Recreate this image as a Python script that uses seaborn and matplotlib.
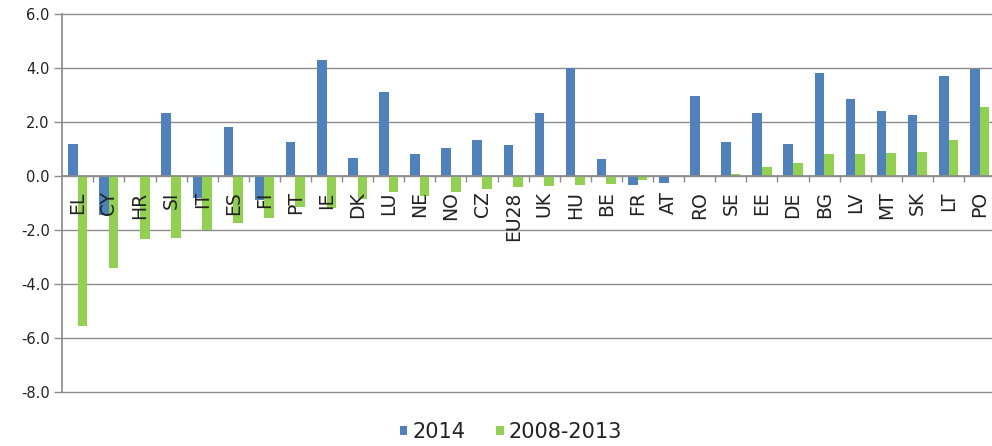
import numpy as np
import pandas as pd
import matplotlib
matplotlib.use("Agg")
import matplotlib.pyplot as plt
import seaborn as sns
from matplotlib.ticker import FixedLocator, FormatStrFormatter

countries = ["EL", "CY", "HR", "SI", "IT", "ES", "FI", "PT", "IE", "DK",
             "LU", "NE", "NO", "CZ", "EU28", "UK", "HU", "BE", "FR", "AT",
             "RO", "SE", "EE", "DE", "BG", "LV", "MT", "SK", "LT", "PO"]
v2014 = [1.2, -1.45, 0.0, 2.33, -0.8, 1.8, -0.9, 1.27, 4.3, 0.67,
         3.1, 0.8, 1.03, 1.33, 1.15, 2.33, 4.0, 0.62, -0.32, -0.25,
         2.98, 1.27, 2.33, 1.2, 3.83, 2.87, 2.39, 2.27, 3.7, 3.97]
v0813 = [-5.55, -3.4, -2.35, -2.3, -2.0, -1.75, -1.57, -1.15, -1.2, -0.85,
         -0.6, -0.75, -0.58, -0.49, -0.42, -0.37, -0.35, -0.3, -0.15, 0.0,
         0.0, 0.07, 0.32, 0.49, 0.8, 0.8, 0.85, 0.9, 1.32, 2.57]
series_names = ["2014", "2008-2013"]
colors = ["#4F81BD", "#92D050"]
yticks = [-8, -6, -4, -2, 0, 2, 4, 6]

df = pd.DataFrame({
    "country": countries + countries,
    "series": [series_names[0]] * len(countries) + [series_names[1]] * len(countries),
    "value": v2014 + v0813,
})

sns.set_theme(style="white")
plt.rcParams["font.family"] = ["DejaVu Sans"]

fig = plt.figure(figsize=(9.92, 4.46), dpi=100)
ax = fig.add_axes([62.2 / 992, 1 - 392 / 446, (995.2 - 62.2) / 992, (392 - 14) / 446])

sns.barplot(data=df, x="country", y="value", hue="series", order=countries,
            hue_order=series_names, palette=colors, width=0.62, saturation=1,
            errorbar=None, linewidth=0, edgecolor="none", ax=ax)

ax.set_ylim(-8, 6)
ax.set_xlim(-0.5, len(countries) - 0.5)
ax.set_yticks(yticks)
ax.yaxis.set_major_formatter(FormatStrFormatter("%.1f"))
ax.set_xlabel("")
ax.set_ylabel("")
ax.grid(axis="y", color="#8c8c8c", lw=1)
for gl in ax.yaxis.get_gridlines():
    gl.set_clip_on(False)
ax.set_axisbelow(True)
ax.xaxis.set_zorder(2.5)
for s in ["top", "right"]:
    ax.spines[s].set_visible(False)
ax.spines["bottom"].set_position(("data", 0))
ax.spines["bottom"].set_color("#8c8c8c")
ax.spines["left"].set_color("#8c8c8c")
ax.tick_params(axis="x", which="major", length=0, pad=11, labelsize=13.5,
               labelrotation=90, labelcolor="#222222")
ax.xaxis.set_minor_locator(FixedLocator(np.arange(0.5, len(countries) - 1, 1)))
ax.tick_params(axis="x", which="minor", length=4.5, width=1, color="#8c8c8c",
               direction="out", bottom=True)
ax.tick_params(axis="y", length=6, width=1, color="#8c8c8c", labelsize=10.5,
               pad=3, labelcolor="#222222", left=True)

handles, labels = ax.get_legend_handles_labels()
if ax.legend_ is not None:
    ax.legend_.remove()
fig.legend(handles, labels, loc="center", bbox_to_anchor=(511 / 992, 1 - 432 / 446),
           ncol=2, frameon=False, fontsize=15, handlelength=0.35, handleheight=0.35,
           handletextpad=0.25, columnspacing=1.5, labelcolor="#222222")

fig.savefig("out.png", dpi=100)
